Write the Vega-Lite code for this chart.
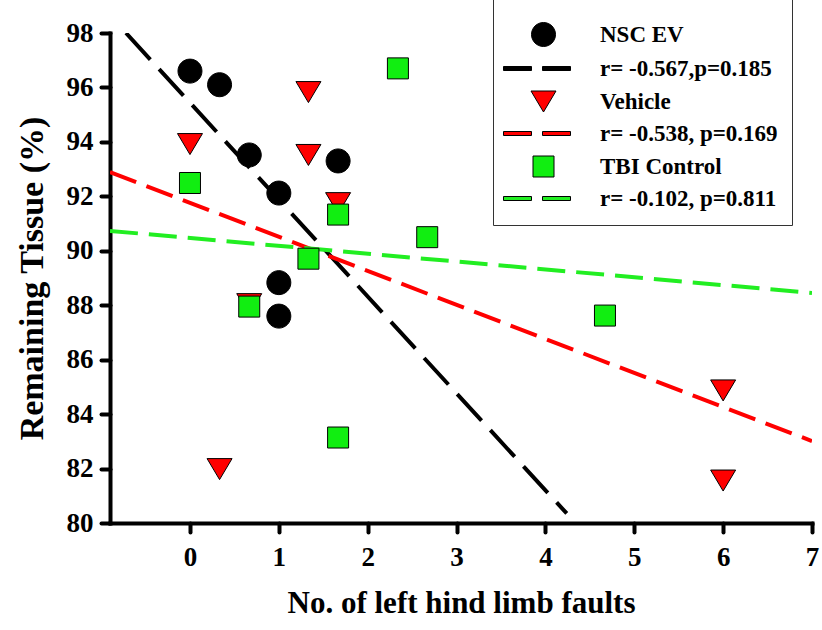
{
  "$schema": "https://vega.github.io/schema/vega-lite/v6.json",
  "width": 702,
  "height": 490,
  "autosize": {"type": "none"},
  "padding": {"left": 110, "top": 33, "right": 10, "bottom": 107},
  "background": "white",
  "config": {"view": {"stroke": null}, "font": "Liberation Serif"},
  "datasets": {
    "points": [
      {"group": "NSC EV", "faults": 0, "tissue": 96.6},
      {"group": "NSC EV", "faults": 0.333, "tissue": 96.1},
      {"group": "NSC EV", "faults": 0.667, "tissue": 93.52},
      {"group": "NSC EV", "faults": 1, "tissue": 92.12},
      {"group": "NSC EV", "faults": 1, "tissue": 88.83},
      {"group": "NSC EV", "faults": 1, "tissue": 87.6},
      {"group": "NSC EV", "faults": 1.667, "tissue": 93.3},
      {"group": "Vehicle", "faults": 0, "tissue": 93.92},
      {"group": "Vehicle", "faults": 0.333, "tissue": 81.98},
      {"group": "Vehicle", "faults": 0.667, "tissue": 88.04},
      {"group": "Vehicle", "faults": 1.333, "tissue": 95.83},
      {"group": "Vehicle", "faults": 1.333, "tissue": 93.52},
      {"group": "Vehicle", "faults": 1.667, "tissue": 91.75},
      {"group": "Vehicle", "faults": 6, "tissue": 84.87},
      {"group": "Vehicle", "faults": 6, "tissue": 81.56},
      {"group": "TBI Control", "faults": 0, "tissue": 92.49},
      {"group": "TBI Control", "faults": 0.667, "tissue": 87.95},
      {"group": "TBI Control", "faults": 1.333, "tissue": 89.71},
      {"group": "TBI Control", "faults": 1.667, "tissue": 91.33},
      {"group": "TBI Control", "faults": 1.667, "tissue": 83.14},
      {"group": "TBI Control", "faults": 2.34, "tissue": 96.7},
      {"group": "TBI Control", "faults": 2.67, "tissue": 90.5},
      {"group": "TBI Control", "faults": 4.67, "tissue": 87.62}
    ],
    "fits": [
      {"fit": "r= -0.567,p=0.185", "faults": -0.72, "tissue": 98.0},
      {"fit": "r= -0.567,p=0.185", "faults": 4.24, "tissue": 80.35},
      {"fit": "r= -0.538, p=0.169", "faults": -0.9, "tissue": 92.89},
      {"fit": "r= -0.538, p=0.169", "faults": 7, "tissue": 83.01},
      {"fit": "r= -0.102, p=0.811", "faults": -0.9, "tissue": 90.73},
      {"fit": "r= -0.102, p=0.811", "faults": 7, "tissue": 88.45}
    ]
  },
  "encoding": {
    "x": {
      "field": "faults", "type": "quantitative",
      "scale": {"domain": [-0.9, 7], "nice": false, "zero": false},
      "axis": {
        "title": "No. of left hind limb faults",
        "values": [0, 1, 2, 3, 4, 5, 6, 7], "format": "d",
        "grid": false, "labelFlush": false, "labelOverlap": false,
        "domainColor": "black", "domainWidth": 4, "domainCap": "square",
        "tickColor": "black", "tickWidth": 4, "tickSize": 9, "tickCap": "round",
        "labelFont": "Liberation Serif", "labelFontWeight": "bold", "labelFontSize": 27, "labelColor": "black", "labelPadding": 12,
        "titleFont": "Liberation Serif", "titleFontWeight": "bold", "titleFontSize": 31, "titleColor": "black", "titlePadding": 18
      }
    },
    "y": {
      "field": "tissue", "type": "quantitative",
      "scale": {"domain": [80, 98], "nice": false, "zero": false},
      "axis": {
        "title": "Remaining Tissue (%)",
        "values": [80, 82, 84, 86, 88, 90, 92, 94, 96, 98], "format": "d",
        "grid": false, "labelFlush": false, "labelOverlap": false,
        "domainColor": "black", "domainWidth": 4, "domainCap": "square",
        "tickColor": "black", "tickWidth": 4, "tickSize": 9, "tickCap": "round",
        "labelFont": "Liberation Serif", "labelFontWeight": "bold", "labelFontSize": 27, "labelColor": "black", "labelPadding": 8,
        "titleFont": "Liberation Serif", "titleFontWeight": "bold", "titleFontSize": 34, "titleColor": "black", "titlePadding": 17
      }
    }
  },
  "layer": [
    {
      "data": {"name": "fits"},
      "mark": {"type": "line", "strokeWidth": 4, "strokeCap": "butt", "clip": true},
      "encoding": {
        "detail": {"field": "fit", "type": "nominal"},
        "stroke": {
          "field": "fit", "type": "nominal", "legend": null,
          "scale": {"domain": ["r= -0.567,p=0.185", "r= -0.538, p=0.169", "r= -0.102, p=0.811"], "range": ["#000000", "#ff0000", "#22ee22"]}
        },
        "strokeDash": {
          "field": "fit", "type": "nominal", "legend": null,
          "scale": {"domain": ["r= -0.567,p=0.185", "r= -0.538, p=0.169", "r= -0.102, p=0.811"], "range": [[36, 13], [28, 11], [28, 11]]}
        }
      }
    },
    {
      "data": {"name": "points"},
      "mark": {"type": "point", "filled": true, "stroke": "black", "strokeWidth": 1, "size": 400, "opacity": 1},
      "encoding": {
        "fill": {
          "field": "group", "type": "nominal",
          "scale": {
            "domain": ["NSC EV", "r= -0.567,p=0.185", "Vehicle", "r= -0.538, p=0.169", "TBI Control", "r= -0.102, p=0.811"],
            "range": ["#000000", "#000000", "#ff0000", "#ff0000", "#11ee11", "#22ee22"]
          },
          "legend": {
            "title": " ", "titleFontSize": 2, "titlePadding": 14,
            "orient": "none", "legendX": 383, "legendY": -40,
            "padding": 14, "strokeColor": "#333333",
            "symbolSize": 400, "symbolOffset": 25, "symbolStrokeWidth": 1,
            "labelOffset": 45, "labelFont": "Liberation Serif", "labelFontWeight": "bold", "labelFontSize": 23, "labelColor": "black", "labelLimit": 400,
            "rowPadding": 8,
            "encode": {
              "symbols": {"update": {"stroke": {"signal": "indexof(datum.value, 'r=') === 0 ? 'transparent' : 'black'"}}},
              "legend": {"update": {"strokeWidth": {"value": 1.5}}}
            }
          }
        },
        "shape": {
          "field": "group", "type": "nominal",
          "scale": {
            "domain": ["NSC EV", "r= -0.567,p=0.185", "Vehicle", "r= -0.538, p=0.169", "TBI Control", "r= -0.102, p=0.811"],
            "range": [
              "M-1.2,0A1.2,1.2 0 1,0 1.2,0A1.2,1.2 0 1,0 -1.2,0Z",
              "M-4.0,-0.2H-1.2V0.2H-4.0Z M-0.1,-0.2H2.7V0.2H-0.1Z",
              "M-1.25,-1.05L1.25,-1.05L0,1.05Z",
              "M-4.0,-0.2H-1.2V0.2H-4.0Z M-0.1,-0.2H2.7V0.2H-0.1Z",
              "M-1.05,-1.05H1.05V1.05H-1.05Z",
              "M-4.0,-0.2H-1.2V0.2H-4.0Z M-0.1,-0.2H2.7V0.2H-0.1Z"
            ]
          },
          "legend": {
            "title": " ", "titleFontSize": 2, "titlePadding": 14,
            "orient": "none", "legendX": 383, "legendY": -40,
            "padding": 14, "strokeColor": "#333333",
            "symbolSize": 400, "symbolOffset": 25, "symbolStrokeWidth": 1,
            "labelOffset": 45, "labelFont": "Liberation Serif", "labelFontWeight": "bold", "labelFontSize": 23, "labelColor": "black", "labelLimit": 400,
            "rowPadding": 8,
            "encode": {
              "symbols": {"update": {"stroke": {"signal": "indexof(datum.value, 'r=') === 0 ? 'transparent' : 'black'"}}},
              "legend": {"update": {"strokeWidth": {"value": 1.5}}}
            }
          }
        }
      }
    }
  ]
}
